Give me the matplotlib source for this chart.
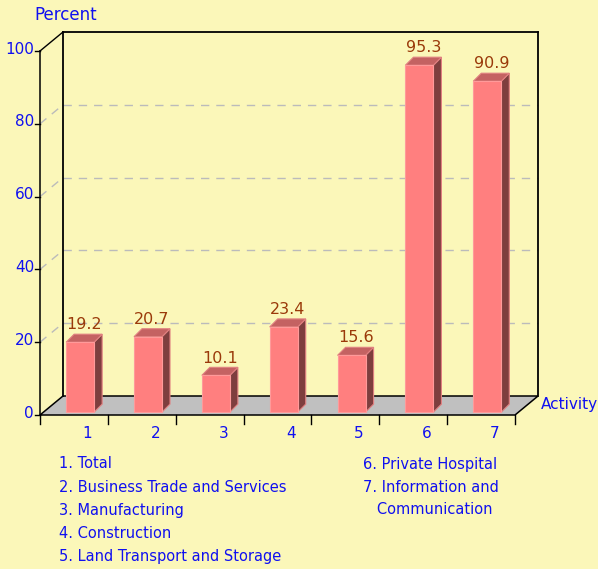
import matplotlib.pyplot as plt
from matplotlib.patches import Polygon

categories = ['1', '2', '3', '4', '5', '6', '7']
values = [19.2, 20.7, 10.1, 23.4, 15.6, 95.3, 90.9]
yticks = [0, 20, 40, 60, 80, 100]
legend_left = ['1. Total', '2. Business Trade and Services', '3. Manufacturing',
               '4. Construction', '5. Land Transport and Storage']
legend_right = ['6. Private Hospital', '7. Information and', '   Communication']

bg = '#FBF7B9'
blue = '#1010F0'
brown = '#9A3A0A'

fig = plt.figure(figsize=(5.98, 5.69), dpi=100, facecolor=bg)
ax = fig.add_axes([0, 0, 1, 1])
ax.set_facecolor(bg)
ax.axis('off')
# pixel mapping: x -> 40 + 67.86*x, y -> 415 - 3.64*y (from top)
ax.set_xlim(-40 / 67.86, 558 / 67.86)
ax.set_ylim(-154 / 3.64, 415 / 3.64)

n = len(values)
DX = 23 / 67.86   # depth offset
DY = 19 / 3.64

# floor
ax.add_patch(Polygon([(0, 0), (n, 0), (n + DX, DY), (DX, DY)], closed=True,
                     facecolor='#C0C0C0', edgecolor='black', lw=1.1, zorder=1))
# walls
ax.plot([0, 0], [0, 100], color='black', lw=1.1, zorder=2)
ax.plot([0, DX], [100, 100 + DY], color='black', lw=1, zorder=2)
ax.plot([DX, DX], [DY, 100 + DY], color='black', lw=1.3, zorder=2)
ax.plot([DX, n + DX], [100 + DY, 100 + DY], color='black', lw=1.3, zorder=2)
ax.plot([n + DX, n + DX], [DY, 100 + DY], color='black', lw=1.3, zorder=2)

# grid lines
for t in yticks[1:-1]:
    ax.plot([DX, n + DX], [t + DY, t + DY], color='#BBBBBB', lw=1, ls=(0, (6, 5)), zorder=1.5)
    ax.plot([0, DX], [t, t + DY], color='#BBBBBB', lw=1, ls=(0, (6, 5)), zorder=1.5)

# y ticks
for t in yticks:
    ax.plot([-5 / 67.86, 0], [t, t], color='black', lw=1, zorder=2)
    ax.text(-6 / 67.86, t + 0.5, str(t), color=blue, fontsize=11, ha='right', va='center')
ax.text(-6 / 67.86, 110, 'Percent', color=blue, fontsize=12, ha='left', va='center')

# x ticks
for i in range(n + 1):
    ax.plot([i, i], [0, -9 / 3.64], color='black', lw=1, zorder=2)
for i, c in enumerate(categories):
    ax.text(i + 0.7, -19 / 3.64, c, color=blue, fontsize=11, ha='center', va='center')
ax.text(n + DX + 0.04, DY - 2.4, 'Activity', color=blue, fontsize=11, ha='left', va='center')

# bars
f = 0.27
bw = 28 / 67.86
bdx = 8 / 67.86
bdy = 8 / 3.64
for i, v in enumerate(values):
    x0 = i + 0.5 - bw / 2 + f * DX
    y0 = 0.8
    front = [(x0, y0), (x0 + bw, y0), (x0 + bw, y0 + v), (x0, y0 + v)]
    top = [(x0, y0 + v), (x0 + bw, y0 + v), (x0 + bw + bdx, y0 + v + bdy), (x0 + bdx, y0 + v + bdy)]
    side = [(x0 + bw, y0), (x0 + bw + bdx, y0 + bdy), (x0 + bw + bdx, y0 + v + bdy), (x0 + bw, y0 + v)]
    ax.add_patch(Polygon(side, closed=True, facecolor='#7E3E3E', edgecolor='#E08080', lw=0.8, zorder=3))
    ax.add_patch(Polygon(top, closed=True, facecolor='#C46262', edgecolor='#E08080', lw=0.8, zorder=3))
    ax.add_patch(Polygon(front, closed=True, facecolor='#FF7F7F', edgecolor='#FF9A9A', lw=0.8, zorder=4))
    ax.text(x0 + (bw + bdx) / 2, y0 + v + bdy + 0.5, f'{v:.1f}', color=brown,
            fontsize=11.5, ha='center', va='bottom', zorder=5)

# category legend
for k, s in enumerate(legend_left):
    ax.text(19 / 67.86, -(49 + 23 * k) / 3.64, s, color=blue, fontsize=10.5, ha='left', va='center')
for k, s in enumerate(legend_right):
    ax.text(323 / 67.86, -(49 + 23 * k) / 3.64, s, color=blue, fontsize=10.5, ha='left', va='center')

fig.savefig('out.png', dpi=100, facecolor=bg)
